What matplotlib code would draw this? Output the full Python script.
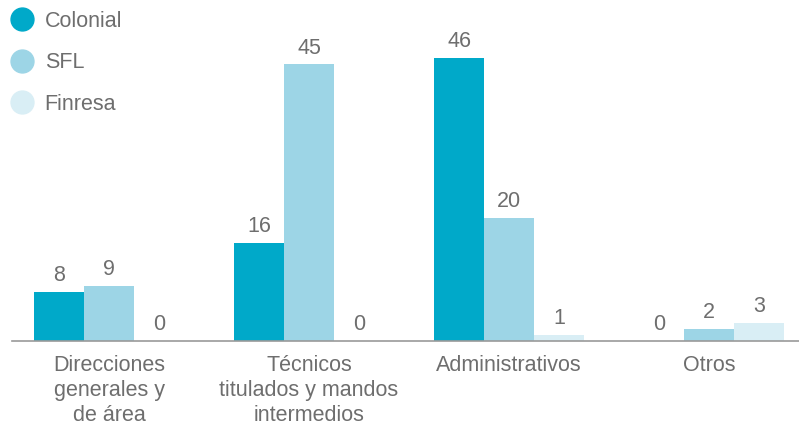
import numpy as np
import matplotlib.pyplot as plt
from matplotlib.lines import Line2D

categories = ['Direcciones\ngenerales y\nde área', 'Técnicos\ntitulados y mandos\nintermedios',
              'Administrativos', 'Otros']
series_names = ['Colonial', 'SFL', 'Finresa']
colonial = [8, 16, 46, 0]
sfl = [9, 45, 20, 2]
finresa = [0, 0, 1, 3]

colors = ['#00a9c9', '#9dd5e6', '#d9eef5']
text_color = '#6e6e6e'
fs = 15.5

plt.rcParams['font.family'] = ['Liberation Sans', 'DejaVu Sans']

fig = plt.figure(figsize=(7.99, 4.26), dpi=100)
ax = fig.add_axes([12 / 799, 85 / 426, 787 / 799, 307.6 / 426])

x = np.arange(len(categories))
w = 0.25
for i, (vals, name) in enumerate(zip([colonial, sfl, finresa], series_names)):
    bars = ax.bar(x + (i - 1) * w, vals, width=w, color=colors[i], label=name)
    ax.bar_label(bars, padding=4, fontsize=fs, color=text_color)

ax.set_xlim(-0.485, 3.45)
ax.set_ylim(0, 50)
ax.set_xticks(x)
ax.set_xticklabels(categories, fontsize=fs, color=text_color, linespacing=1.24, va='top')
ax.tick_params(axis='x', length=0, pad=10)
ax.set_yticks([])
for s in ['top', 'right', 'left']:
    ax.spines[s].set_visible(False)
ax.spines['bottom'].set_color('#9a9a9a')
ax.spines['bottom'].set_linewidth(1.2)

handles = [Line2D([], [], marker='o', linestyle='', markersize=16.5, color=c) for c in colors]
leg = fig.legend(handles, series_names, loc='upper left', bbox_to_anchor=(-0.012, 1.01),
                 frameon=False, fontsize=fs, labelcolor=text_color, handletextpad=0.32,
                 labelspacing=0.95, borderaxespad=0.3, handlelength=1.5)

fig.savefig('out.png', dpi=100)
